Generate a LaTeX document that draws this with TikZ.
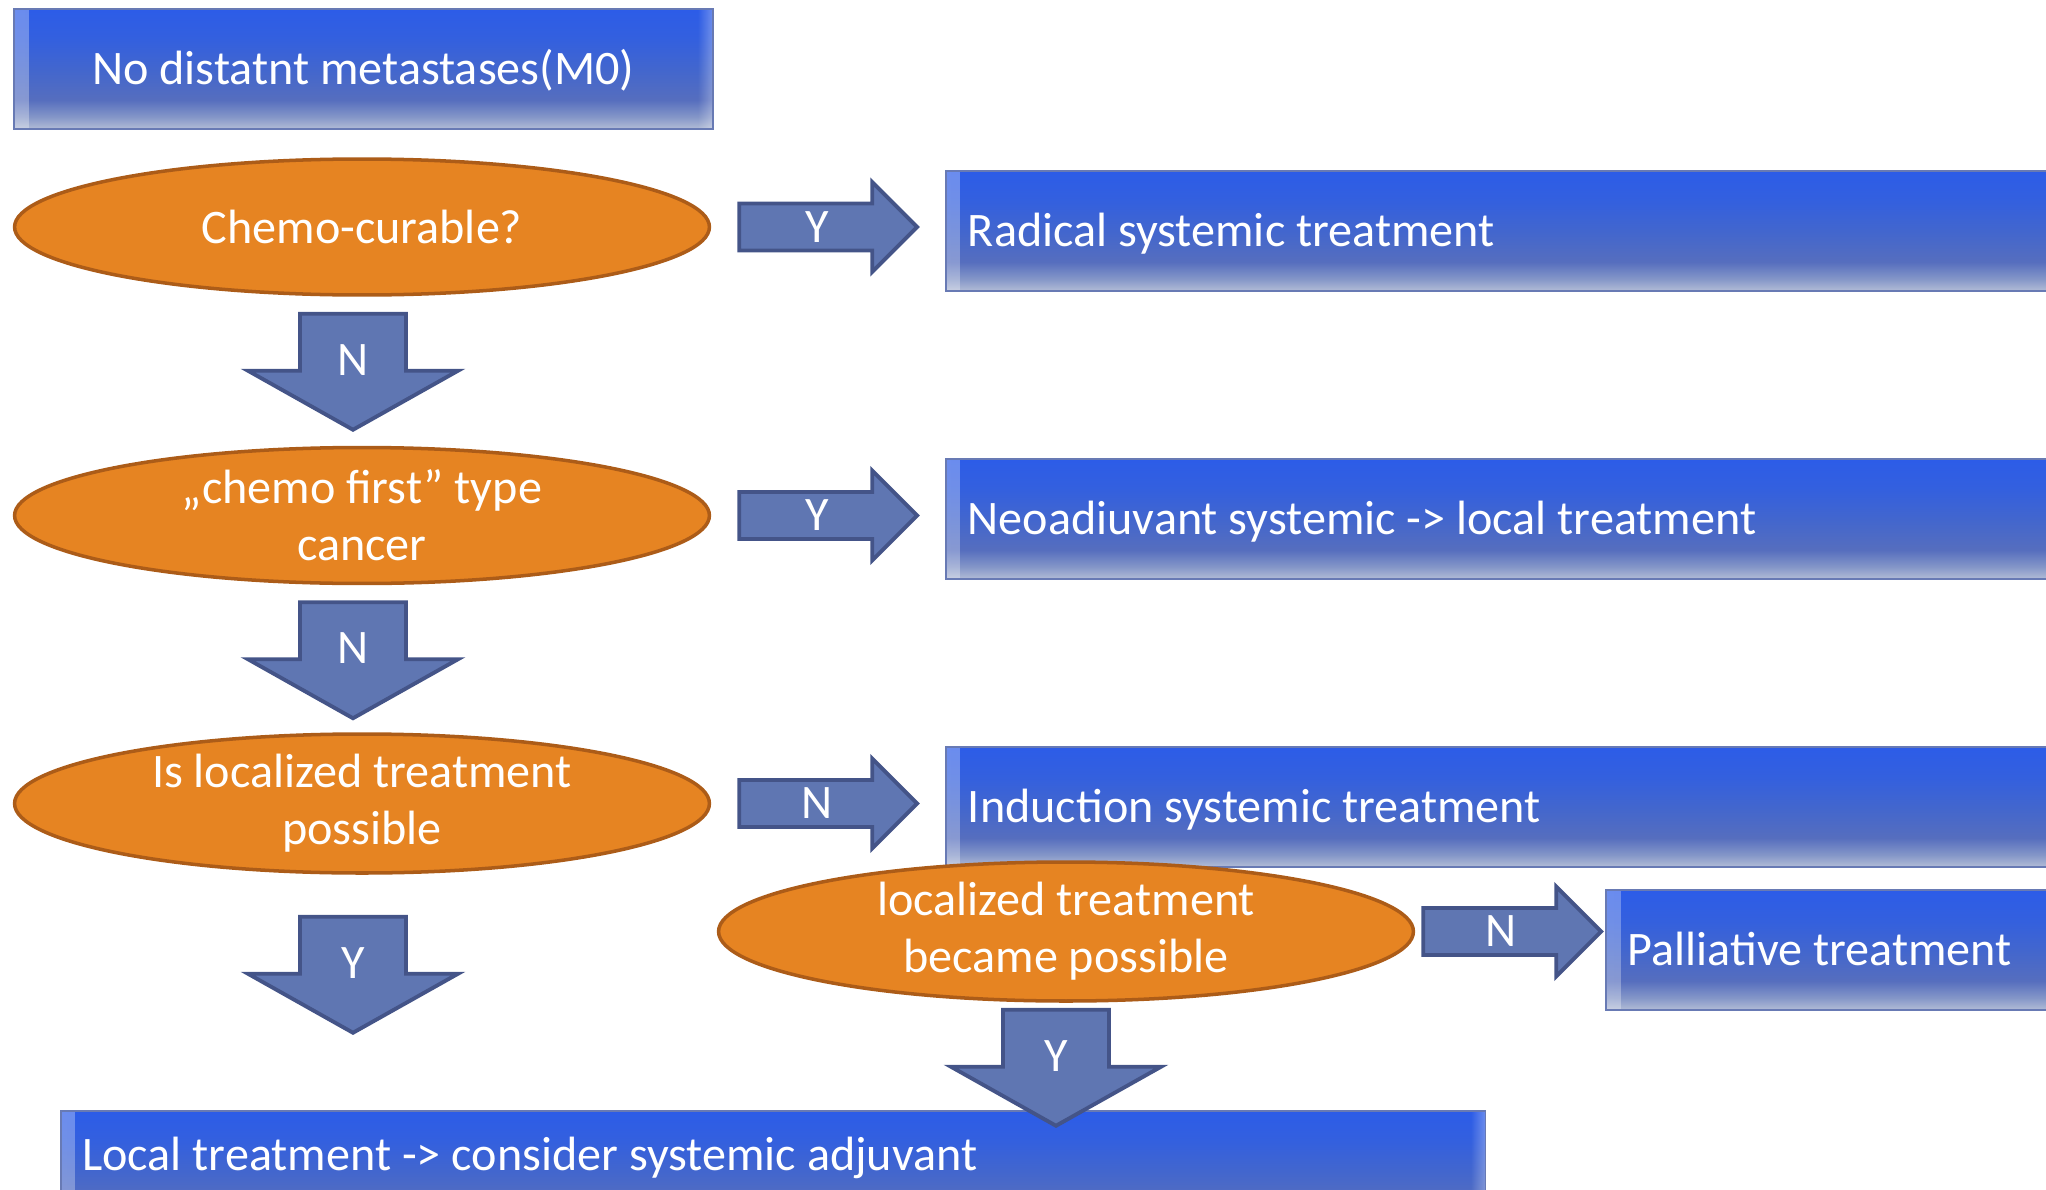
\documentclass[tikz,border=0pt]{standalone}
\usepackage{fontspec}
\setmainfont{Carlito}
\usepackage{xcolor}
\usetikzlibrary{shapes.geometric,calc,fadings}

\definecolor{boxtop}{RGB}{44,92,232}
\definecolor{boxupper}{RGB}{52,96,222}
\definecolor{boxmid}{RGB}{66,102,206}
\definecolor{boxlow}{RGB}{86,110,190}
\definecolor{boxsoft}{RGB}{132,150,200}
\definecolor{boxfade}{RGB}{178,188,214}
\definecolor{boxline}{RGB}{104,122,180}
\definecolor{qfill}{RGB}{230,132,34}
\definecolor{qline}{RGB}{172,92,24}
\definecolor{arrfill}{RGB}{95,118,178}
\definecolor{arrline}{RGB}{68,84,136}

\pgfdeclareverticalshading{boxshade}{100bp}{%
    color(0bp)=(boxfade); color(25bp)=(boxfade); color(30bp)=(boxsoft);
    color(37bp)=(boxlow); color(50bp)=(boxmid); color(62bp)=(boxupper);
    color(75bp)=(boxtop); color(100bp)=(boxtop)}

\tikzset{
    bluebox/.style={draw=boxline, line width=1pt, shade, shading=boxshade, text=white,
        anchor=north west, minimum height=2.4cm, inner xsep=0.44cm,
        text height=17.6pt, text depth=0pt,
        path picture={
            \fill[white, opacity=0.3, path fading=east] (path picture bounding box.north west)
                rectangle ([xshift=0.3cm]path picture bounding box.south west);
            \fill[white, opacity=0.3, path fading=west] (path picture bounding box.north east)
                rectangle ([xshift=-0.3cm]path picture bounding box.south east);
        }},
    question/.style={ellipse, draw=qline, fill=qfill, line width=2pt, text=white,
        minimum width=13.9cm, minimum height=2.72cm, align=center, inner sep=0pt},
    blockarr/.style={draw=arrline, fill=arrfill, line width=2.2pt},
    arrlabel/.style={text=white, inner sep=0pt},
    pics/rarr/.style={code={
        \draw[blockarr] (0,-23.5) -- (133,-23.5) -- (133,-45) -- (178,0)
            -- (133,45) -- (133,23.5) -- (0,23.5) -- cycle;
        \node[arrlabel] (-t) at (78,0) {#1};
    }},
    pics/darr/.style={code={
        \draw[blockarr] (-53,0) -- (53,0) -- (53,57) -- (105,57) -- (0,116)
            -- (-105,57) -- (-53,57) -- cycle;
        \node[arrlabel] (-t) at (0,46) {#1};
    }},
}

\begin{document}
\begin{tikzpicture}[x=0.02cm, y=-0.02cm, font=\fontsize{27.4}{32.5}\selectfont]
    \useasboundingbox (0,0) rectangle (2046,1190);
    \clip (0,0) rectangle (2046,1190);

    % boxes
    \node[bluebox, minimum width=13.98cm, text width=13.1cm, align=flush center] (m0) at (13,8) {No distatnt metastases(M0)};
    \node[bluebox, minimum width=23.1cm, text width=22.22cm, align=flush left] (rad) at (945,170) {Radical systemic treatment};
    \node[bluebox, minimum width=23.1cm, text width=22.22cm, align=flush left] (neo) at (945,458) {Neoadiuvant systemic -> local treatment};
    \node[bluebox, minimum width=23.1cm, text width=22.22cm, align=flush left] (ind) at (945,746) {Induction systemic treatment};
    \node[bluebox, minimum width=9.9cm, text width=9.02cm, align=flush left] (pal) at (1605,889) {Palliative treatment};
    \node[bluebox, minimum width=28.5cm] (loc) at (60,1110) {};
    \node[anchor=base west, text=white, inner sep=0pt] (loctxt) at ($(loc.north west)+(22,60)$) {Local treatment -> consider systemic adjuvant};

    % questions
    \node[question] (q1) at (362,227) {Chemo-curable?};
    \node[question] (q2) at (362,515.5) {„chemo first” type\\cancer};
    \node[question] (q3) at (362,803.5) {Is localized treatment\\possible};
    \node[question] (q4) at (1066,931.5) {localized treatment\\became possible};

    % yes / no arrows
    \pic (y1) at ($(q1.east)+(28,0)$) {rarr=Y};
    \pic (y2) at ($(q2.east)+(28,0)$) {rarr=Y};
    \pic (n3) at ($(q3.east)+(28,0)$) {rarr=N};
    \pic (n4) at ($(q4.east)+(8,0)$) {rarr=N};
    \pic (n1) at ($(q1.south)+(-9,17)$) {darr=N};
    \pic (n2) at ($(q2.south)+(-9,17)$) {darr=N};
    \pic (y3) at ($(q3.south)+(-9,42)$) {darr=Y};
    \pic (y4) at ($(q4.south)+(-10,7)$) {darr=Y};
\end{tikzpicture}
\end{document}
